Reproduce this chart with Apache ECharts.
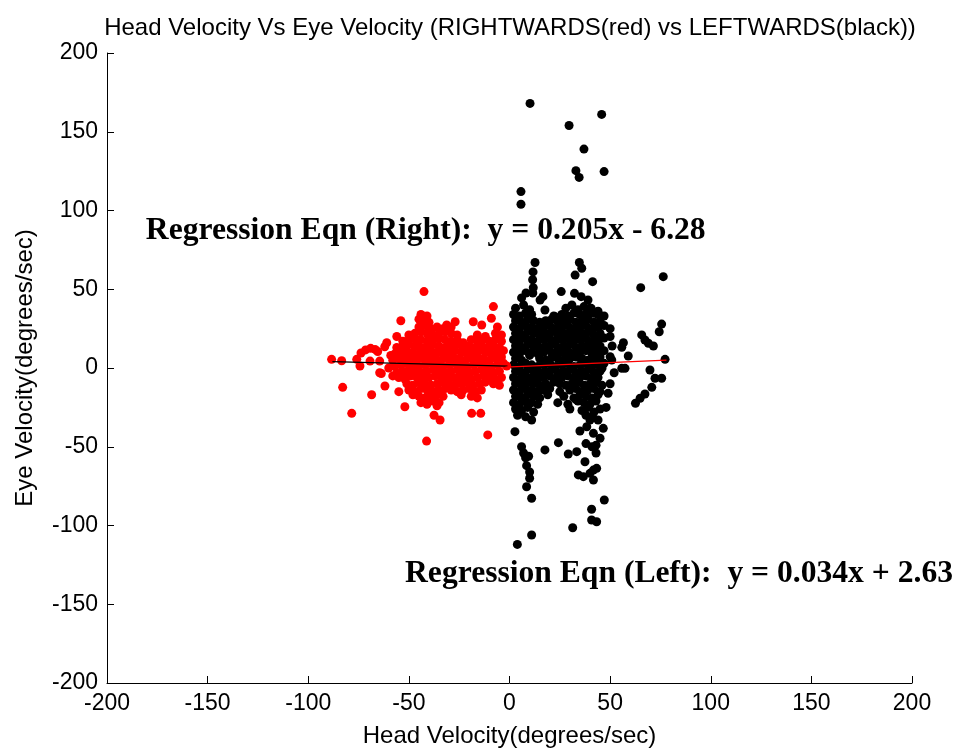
<!DOCTYPE html>
<html><head><meta charset="utf-8">
<script src="https://cdn.jsdelivr.net/npm/echarts@6/dist/echarts.min.js"></script>
<style>html,body{margin:0;padding:0;background:#fff}#c{width:959px;height:748px}</style>
</head><body><div id="c"></div>
<script>
const titleText = 'Head Velocity Vs Eye Velocity (RIGHTWARDS(red) vs LEFTWARDS(black))';
const xName = 'Head Velocity(degrees/sec)';
const yName = 'Eye Velocity(degrees/sec)';
const xTicks = [-200,-150,-100,-50,0,50,100,150,200];
const yTicks = [-200,-150,-100,-50,0,50,100,150,200];

// Rightwards (red) points: [head velocity, eye velocity]
const redPoints = [
[-88.4,5.5],[-83.4,4.6],[-82.9,-12.3],[-78.4,-28.8],[-75.9,5.5],[-74.3,1.3],[-73.8,9.5],[-71.5,11.5],[-69,12.5],[-66.8,11.8],
[-65.5,10.5],[-69.3,4.4],[-68.5,-17],[-64.5,4.4],[-64.5,-3],[-63.7,-3.5],[-61.9,-11.4],[-62,13.5],[-61,16],[-54,30],
[-52,-24.6],[-42.5,48.5],[-41.2,-46.4],[-37.5,-30],[-34.5,-33],[-36,-24],[-18.8,-28.8],[-14.3,-28.8],[-10.8,-42.5],[-8,39],
[-9,31.6],[-18,29.4],[-13.8,27.3],[-27,29.4],[-31.2,27.3],[-1.4,1.3],[-60,0],[-58,-5],[-59,8],[-56,20],[-55,-15],
[-43,30],[-40,29],[-44,34],[-41,33],[-45,31],
[-45,26],[-42,27],[-39,25],[-36,26],[-33,25],[-29,26],[-6,26],
[-50,21],[-47,22],[-44,23],[-41,22],[-38,21],[-35,22],[-32,23],[-29,22],[-26,21],[-16,21],[-12,20],[-7,22],[-4,21],
[-53,17],[-50,18],[-47,19],[-44,18],[-41,17],[-38,18],[-35,19],[-32,18],[-29,17],[-26,18],[-23,16],[-19,18],[-16,17],[-13,18],[-10,17],[-7,18],[-4,17],
[-56,13],[-53,14],[-50,15],[-47,14],[-44,13],[-41,14],[-38,15],[-35,14],[-32,13],[-29,14],[-26,15],[-23,13],[-20,14],[-17,13],[-14,14],[-11,13],[-8,14],[-5,13],
[-57,9],[-54,10],[-51,11],[-48,10],[-45,9],[-42,10],[-39,11],[-36,10],[-33,9],[-30,10],[-27,11],[-24,10],[-21,9],[-18,10],[-15,11],[-12,10],[-9,9],[-6,10],[-3,11],
[-58,5],[-55,6],[-52,7],[-49,6],[-46,5],[-43,6],[-40,7],[-37,6],[-34,5],[-31,6],[-28,7],[-25,6],[-22,5],[-19,6],[-16,7],[-13,6],[-10,5],[-7,6],[-4,7],
[-57,1],[-54,2],[-51,3],[-48,2],[-45,1],[-42,2],[-39,3],[-36,2],[-33,1],[-30,2],[-27,3],[-24,2],[-21,1],[-18,2],[-15,3],[-12,2],[-9,1],[-6,2],[-3,3],
[-56,-3],[-53,-2],[-50,-1],[-47,-2],[-44,-3],[-41,-2],[-38,-1],[-35,-2],[-32,-3],[-29,-2],[-26,-1],[-23,-2],[-20,-3],[-17,-2],[-14,-1],[-11,-2],[-8,-3],[-5,-2],
[-55,-6],[-52,-7],[-49,-5],[-46,-6],[-43,-7],[-40,-6],[-37,-5],[-34,-6],[-31,-7],[-28,-6],[-25,-5],[-22,-6],[-19,-7],[-16,-6],[-13,-5],[-10,-6],[-7,-7],[-4,-6],
[-51,-10],[-48,-11],[-45,-9],[-42,-10],[-39,-11],[-36,-10],[-33,-9],[-30,-10],[-27,-11],[-24,-10],[-21,-9],[-18,-11],[-15,-10],[-12,-9],[-8,-10],[-5,-11],
[-50,-14],[-47,-15],[-44,-13],[-41,-14],[-38,-15],[-35,-14],[-32,-13],[-29,-14],[-26,-15],[-23,-14],[-20,-13],[-17,-15],[-14,-14],
[-48,-17],[-45,-18],[-42,-19],[-39,-18],[-36,-17],[-33,-18],[-24,-17],[-19,-18],[-16,-19],
[-44,-22],[-41,-23],[-38,-21],[-35,-22],
[-46,16],[-40,20],[-34,12],[-28,4],[-22,12],[-43,-4],[-37,8],[-31,-4],[-25,-8],[-49,8],[-52,-4],[-40,-16],[-30,16],[-20,-10],[-12,4]
];

// Leftwards (black) points: [head velocity, eye velocity]
const blackPoints = [
[10.2,168],[45.8,161],[29.6,154],[37,139],[33,125.3],[34.6,121],[47,124.7],[5.7,112],[5.7,104],[12.7,67],
[34.7,67],[35.9,63.3],[32.6,59],[76.4,58],[65.2,51],[11.7,61],[11.5,56],[11.8,51],[11.6,47.6],[41.3,54.8],
[6,44.5],[8.2,47.6],[15.2,43.2],[16.6,45.3],[17.6,36.8],[22.6,32.6],[25.7,48.5],[32.3,47.4],[35.6,45.3],[39,43.2],
[40.6,37.9],[34,34.7],[38.4,34.7],[42,34.7],
[2.7,-40.4],[6,-50],[7,-54],[8,-57],[9.5,-56],[8.5,-62],[10,-66],[10,-70],[8.5,-75.4],[11,-82.7],
[11,-106],[3.9,-112],[17.6,-52],[24.3,-47.4],[29.2,-54.6],[33.4,-53.1],[31.4,-101.4],[35,-40],[38.4,-37.3],[40,-33],
[38,-48],[41,-50],[43,-49],[43,-54],[37.5,-59.5],[34.2,-67.9],[36.7,-69],[40,-66.9],[41.7,-64.8],[43.3,-63.7],
[41.7,-71.1],[47.1,-83.8],[40.8,-89.7],[40.8,-96.5],[43.3,-97.6],[46.6,-38.3],[45,-44.6],[41.7,-41.5],
[75.6,27.9],[74.4,23],[65.7,21],[67.3,17.8],[69,15.7],[71.5,14],[56.6,16],[55.8,13.1],[59,7.6],[77.3,5.5],
[55.8,-0.2],[57.4,-0.2],[69.8,-1.3],[72.3,-6.5],[75.6,-6.5],[70.7,-12.3],[62.6,-22.4],[64.9,-19.2],[67.3,-16.5],[50,7.2],
[50.8,5.1],[50,20],[51,14],[52,-3],[50,-10],[49,-16],[50,25],[48,-25],
[3,38],[7,40],[10,37],[28,38],[31,40],[34,37],[37,39],[40,38],[44,36],
[2,34],[5,33],[8,35],[11,34],[22,33],[26,34],[29,33],[32,35],[35,34],[38,33],[41,35],[44,34],[47,33],
[3,30],[6,29],[9,31],[12,30],[15,29],[18,30],[21,31],[24,29],[27,30],[30,31],[33,29],[36,30],[39,31],[42,29],[45,30],
[2,26],[5,25],[8,27],[11,26],[14,25],[17,26],[20,27],[23,25],[26,26],[29,27],[32,25],[35,26],[38,27],[41,25],[44,26],[47,27],
[3,22],[6,21],[9,23],[12,22],[15,21],[18,22],[21,23],[24,21],[27,22],[30,23],[33,21],[36,22],[39,23],[42,21],[45,22],
[2,18],[5,17],[8,19],[11,18],[14,17],[17,18],[20,19],[23,17],[26,18],[29,19],[32,17],[35,18],[38,19],[41,17],[44,18],[47,19],
[3,14],[6,13],[9,15],[12,14],[15,13],[18,14],[21,15],[24,13],[27,14],[30,15],[33,13],[36,14],[39,15],[42,13],[45,14],
[2,10],[5,9],[8,11],[11,10],[14,9],[17,10],[20,11],[23,9],[26,10],[29,11],[32,9],[35,10],[38,11],[41,9],[44,10],[47,11],
[3,6],[6,5],[15,6],[18,5],[21,7],[24,6],[27,5],[30,6],[33,7],[36,6],[39,5],[42,6],[45,7],
[2,2],[5,1],[8,3],[11,2],[14,1],[17,2],[20,3],[23,1],[26,2],[29,3],[32,1],[35,2],[38,3],[41,1],[44,2],[47,3],
[3,-2],[6,-3],[9,-1],[12,-2],[15,-3],[18,-2],[21,-1],[24,-3],[27,-2],[30,-1],[33,-3],[36,-2],[39,-1],[42,-3],[45,-2],
[2,-6],[5,-7],[8,-5],[11,-6],[14,-7],[17,-6],[20,-5],[23,-7],[26,-6],[29,-5],[32,-7],[35,-6],[38,-5],[41,-7],[44,-6],
[3,-10],[6,-11],[9,-9],[12,-10],[15,-11],[18,-10],[22,-9],[28,-11],[31,-10],[34,-9],[37,-11],[40,-10],[43,-9],[46,-11],
[2,-14],[5,-15],[8,-13],[11,-14],[14,-15],[17,-14],[20,-13],[25,-15],[30,-14],[33,-13],[36,-15],[39,-14],[42,-13],[45,-15],
[3,-18],[6,-19],[9,-17],[12,-18],[15,-19],[19,-17],[27,-18],[32,-19],[35,-17],[38,-18],[41,-19],[44,-17],
[2,-22],[5,-23],[8,-21],[11,-22],[14,-23],[24,-22],[29,-23],[34,-21],[37,-22],[40,-23],[43,-21],
[3,-26],[6,-27],[9,-25],[12,-28],[30,-26],[36,-27],[39,-25],[42,-28],[45,-26],
[4,-30],[8,-31],[11,-33],[38,-30],[41,-31],[44,-33],
[4,20],[10,8],[16,24],[22,16],[28,8],[34,24],[40,12],[46,0],[13,-4],[19,4],[25,-10],[31,20],[37,-4],[43,16],[7,-8],[33,-20],[26,32],[18,-14]
];

// Fitted lines as drawn (endpoints)
const blackFit = [[-88,4.0],[-1,1.2]];
const redFit = [[-2,0.6],[78,5.0]];

// Annotation texts and their data anchors (left edge, vertical middle)
const annotations = [
  {text:'Regression Eqn (Right):  y = 0.205x - 6.28', at:[-180.7, 87]},
  {text:'Regression Eqn (Left):  y = 0.034x + 2.63', at:[-51.9, -130.8]}
];

const chart = echarts.init(document.getElementById('c'), null, {renderer:'canvas'});
const sans = 'Liberation Sans, Arial, sans-serif';
const axisCommon = {
  min:-200, max:200, interval:50,
  axisLine:{show:true, onZero:false, lineStyle:{color:'#000', width:1}},
  axisTick:{show:true, inside:true, length:7, lineStyle:{color:'#000', width:1}},
  splitLine:{show:false},
  axisLabel:{color:'#000', fontSize:23, fontFamily:sans},
  nameTextStyle:{color:'#000', fontSize:24, fontFamily:sans},
  nameLocation:'middle'
};
chart.setOption({
  animation:false,
  backgroundColor:'#fff',
  title:{text:titleText, left:505, top:11, textAlign:'center',
    textStyle:{color:'#000', fontSize:24, fontWeight:'normal', fontFamily:sans}},
  grid:{left:107, right:47, top:53, bottom:65, containLabel:false, outerBoundsMode:'none'},
  xAxis:Object.assign({}, axisCommon, {type:'value', name:xName, nameGap:41,
    axisLabel:Object.assign({}, axisCommon.axisLabel, {margin:9, customValues:xTicks})}),
  yAxis:Object.assign({}, axisCommon, {type:'value', name:yName, nameGap:70,
    axisLabel:Object.assign({}, axisCommon.axisLabel, {margin:9, customValues:yTicks})}),
  series:[
    {type:'scatter', name:'LEFTWARDS', data:blackPoints, symbol:'circle', symbolSize:9,
      itemStyle:{color:'#000', opacity:1}, silent:true},
    {type:'scatter', name:'RIGHTWARDS', data:redPoints, symbol:'circle', symbolSize:9,
      itemStyle:{color:'#ff0000', opacity:1}, silent:true},
    {type:'line', data:blackFit, showSymbol:false, lineStyle:{color:'#000', width:1.3}, silent:true},
    {type:'line', data:redFit, showSymbol:false, lineStyle:{color:'#ff0000', width:1.3}, silent:true},
    {type:'scatter', data:annotations.map(a=>({value:a.at, label:{formatter:a.text}})),
      symbolSize:0, silent:true, clip:false, z:10, itemStyle:{opacity:1},
      label:{show:true, position:'right', distance:0, color:'#000', fontSize:31.6,
        fontWeight:'bold', fontFamily:'Liberation Serif, Times New Roman, serif'},
      labelLayout:{hideOverlap:false}}
  ]
});
</script></body></html>
